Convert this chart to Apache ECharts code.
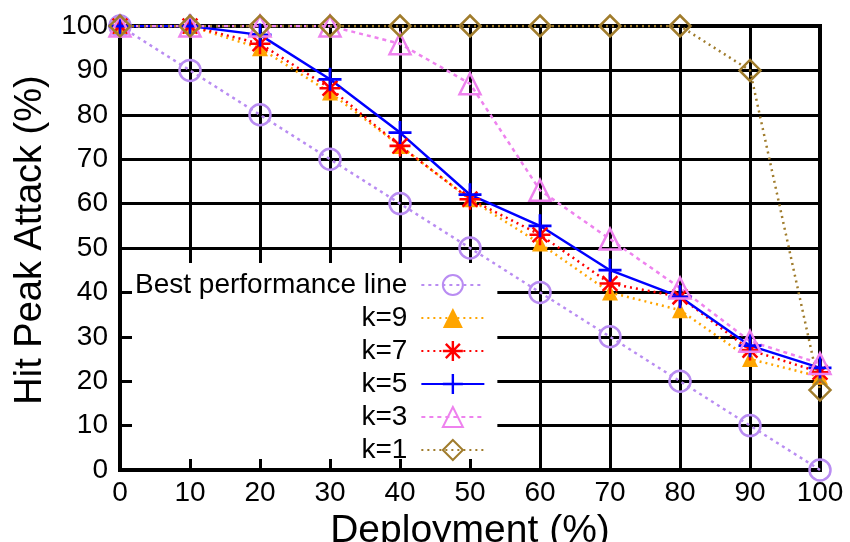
<!DOCTYPE html>
<html>
<head>
<meta charset="utf-8">
<script src="https://cdn.jsdelivr.net/npm/echarts@6/dist/echarts.min.js"></script>
<style>
  html, body { margin: 0; padding: 0; background: #fff; }
  #chart { width: 850px; height: 542px; }
</style>
</head>
<body>
<div id="chart"></div>
<script>
// Deployment percentage on the x axis
const deployment = [0, 10, 20, 30, 40, 50, 60, 70, 80, 90, 100];
const xTicks = [0, 10, 20, 30, 40, 50, 60, 70, 80, 90, 100];
const yTicks = [0, 10, 20, 30, 40, 50, 60, 70, 80, 90, 100];

// Hit peak attack (%) per configuration
const bestLine = [100, 90, 80, 70, 60, 50, 40, 30, 20, 10, 0];
const k9 = [100, 100, 95, 85, 73, 61, 51, 40, 36, 25, 21];
const k7 = [100, 100, 96, 86, 73, 61, 53, 42, 39, 27, 22];
const k5 = [100, 100, 98, 88, 76, 62, 55, 45, 39, 28, 23];
const k3 = [100, 100, 100, 100, 96, 87, 63, 52, 41, 29, 24];
const k1 = [100, 100, 100, 100, 100, 100, 100, 100, 100, 90, 18];

const seriesNames = ['Best performance line', 'k=9', 'k=7', 'k=5', 'k=3', 'k=1'];

const FONT = 'Liberation Sans, Arial, sans-serif';

// plus and asterisk point shapes
const PLUS = 'path://M-1.2,-10L1.2,-10L1.2,10L-1.2,10Z M-10,-1.2L10,-1.2L10,1.2L-10,1.2Z';
const STAR = 'path://M-1.2,-10L1.2,-10L1.2,10L-1.2,10Z M-10,-1.2L10,-1.2L10,1.2L-10,1.2Z ' +
  'M-7.9,-6.2L-6.2,-7.9L7.9,6.2L6.2,7.9Z M6.2,-7.9L7.9,-6.2L-6.2,7.9L-7.9,6.2Z';

function pairs(ys) { return deployment.map((x, i) => [x, ys[i]]); }

function lineSeries(name, ys, color, type, width, symbol, size, filled) {
  return {
    name: name,
    type: 'line',
    xAxisIndex: 0,
    yAxisIndex: 0,
    data: pairs(ys),
    z: 6,
    symbol: symbol,
    symbolSize: size,
    showAllSymbol: true,
    lineStyle: { color: color, width: width, type: type },
    itemStyle: filled
      ? { color: color }
      : { color: 'rgba(0,0,0,0)', borderColor: color, borderWidth: 2.5 },
    emphasis: { disabled: true }
  };
}

const chart = echarts.init(document.getElementById('chart'), null, { renderer: 'canvas' });

const axisLabelStyle = { color: '#000', fontFamily: FONT, fontSize: 28 };

chart.setOption({
  animation: false,
  backgroundColor: '#fff',
  grid: {
    left: 120, right: 30, top: 26, bottom: 72,
    outerBoundsMode: 'none',
    containLabel: false,
    show: true, borderColor: '#000', borderWidth: 4, backgroundColor: 'transparent'
  },
  legend: {
    data: seriesNames,
    orient: 'vertical',
    align: 'right',
    left: 123,
    top: 263,
    padding: [8, 12, 8, 12],
    itemWidth: 63,
    itemHeight: 25,
    itemGap: 5,
    backgroundColor: '#fff',
    z: 4,
    selectedMode: false,
    textStyle: { color: '#000', fontFamily: FONT, fontSize: 28, lineHeight: 27, padding: [0, 9, 0, 0] }
  },
  xAxis: [
    {
      type: 'value', min: xTicks[0], max: xTicks[xTicks.length - 1], interval: 10,
      position: 'bottom', z: 5,
      name: 'Deployment (%)', nameLocation: 'middle', nameGap: 42,
      nameTextStyle: { color: '#000', fontFamily: FONT, fontSize: 39 },
      axisLine: { show: true, lineStyle: { color: '#000', width: 4 } },
      axisTick: { show: true, inside: true, length: 11, lineStyle: { color: '#000', width: 3 } },
      axisLabel: Object.assign({ margin: 9 }, axisLabelStyle),
      splitLine: { show: false }
    },
    {
      type: 'value', min: xTicks[0], max: xTicks[xTicks.length - 1], interval: 10,
      position: 'bottom', z: 0,
      axisLine: { show: false }, axisTick: { show: false }, axisLabel: { show: false },
      splitLine: { show: true, lineStyle: { color: '#000', width: 3 } }
    }
  ],
  yAxis: [
    {
      type: 'value', min: yTicks[0], max: yTicks[yTicks.length - 1], interval: 10,
      position: 'left', z: 5,
      name: 'Hit Peak Attack (%)', nameLocation: 'middle', nameGap: 70,
      nameTextStyle: { color: '#000', fontFamily: FONT, fontSize: 38, padding: [0, 0, 0, 16] },
      axisLine: { show: true, lineStyle: { color: '#000', width: 4 } },
      axisTick: { show: true, inside: true, length: 12, lineStyle: { color: '#000', width: 3 } },
      axisLabel: Object.assign({ margin: 12 }, axisLabelStyle),
      splitLine: { show: false }
    },
    {
      type: 'value', min: yTicks[0], max: yTicks[yTicks.length - 1], interval: 10,
      position: 'left', z: 0,
      axisLine: { show: false }, axisTick: { show: false }, axisLabel: { show: false },
      splitLine: { show: true, lineStyle: { color: '#000', width: 3 } }
    }
  ],
  series: [
    lineSeries(seriesNames[0], bestLine, '#b98cf2', [3, 4], 2.5, 'circle', 21, false),
    lineSeries(seriesNames[1], k9, '#ffa500', [2, 4], 2.5, 'triangle', 16, true),
    lineSeries(seriesNames[2], k7, '#ff0000', [2, 4], 2.5, STAR, 21, true),
    lineSeries(seriesNames[3], k5, '#0000ff', 'solid', 2.5, PLUS, 23, true),
    lineSeries(seriesNames[4], k3, '#ee82ee', [4, 4], 2.5, 'triangle', 21, false),
    lineSeries(seriesNames[5], k1, '#a07c2c', [2, 4], 2.5, 'diamond', 21, false)
  ]
});
</script>
</body>
</html>
